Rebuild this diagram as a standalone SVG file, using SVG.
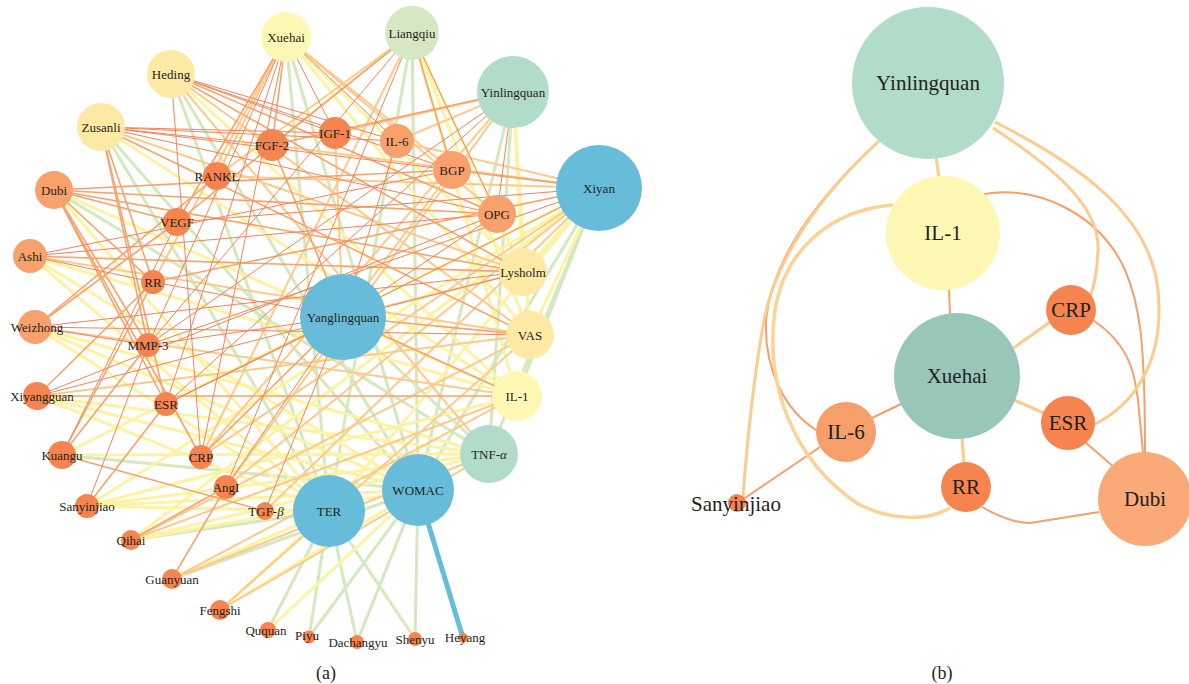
<svg xmlns="http://www.w3.org/2000/svg" width="1189" height="684" viewBox="0 0 1189 684">
<style>
.g{stroke:#d5e8c0;stroke-width:3;fill:none}
.y{stroke:#fcf3a5;stroke-width:3;fill:none}
.lo{stroke:#fdca8b;stroke-width:2;fill:none}
.o{stroke:#f8a26c;stroke-width:1.6;fill:none}
.r{stroke:#f3835a;stroke-width:1;fill:none}
.bl{stroke:#67bdd9;stroke-width:5;fill:none}
.eb1{stroke:#fdcb8c;stroke-width:3;fill:none}
.eb2{stroke:#f5a06b;stroke-width:2;fill:none}
.la{font-family:"Liberation Serif",serif;font-size:13px;text-anchor:middle;fill:#231f20}
.lb{font-family:"Liberation Serif",serif;font-size:21px;text-anchor:middle;fill:#231f20}
.cap{font-family:"Liberation Serif",serif;font-size:18px;text-anchor:middle;fill:#231f20}
.blue{fill:#67bdd9}.teal{fill:#b1dcca}.lg{fill:#d5e8c3}.ly{fill:#fff8b5}.cr{fill:#fee9a5}
.or{fill:#f5844f}.lor{fill:#f8a16d}
</style>
<rect width="1189" height="684" fill="#ffffff"/>
<g id="edges-a">
<g class="g">
<line x1="286" y1="37" x2="329" y2="511"/><line x1="286" y1="37" x2="418" y2="490"/>
<line x1="171" y1="74" x2="329" y2="511"/><line x1="171" y1="74" x2="418" y2="490"/>
<line x1="101" y1="127" x2="329" y2="511"/><line x1="101" y1="127" x2="418" y2="490"/>
<line x1="412" y1="33" x2="329" y2="511"/><line x1="412" y1="33" x2="418" y2="490"/>
<line x1="513" y1="92" x2="489" y2="454"/><line x1="513" y1="92" x2="418" y2="490"/>
<line x1="599" y1="188" x2="489" y2="454"/><line x1="599" y1="188" x2="418" y2="490"/>
<line x1="599" y1="188" x2="517" y2="396"/><line x1="62" y1="455" x2="418" y2="490"/>
<line x1="131" y1="540" x2="329" y2="511"/><line x1="172" y1="579" x2="418" y2="490"/>
<line x1="268" y1="630" x2="329" y2="511"/><line x1="309" y1="637" x2="329" y2="511"/>
<line x1="309" y1="637" x2="418" y2="490"/><line x1="357" y1="642" x2="329" y2="511"/>
<line x1="357" y1="642" x2="418" y2="490"/><line x1="415" y1="639" x2="329" y2="511"/>
<line x1="415" y1="639" x2="418" y2="490"/><line x1="54" y1="190" x2="489" y2="454"/>
<line x1="343" y1="317" x2="489" y2="454"/>
</g>
<g class="y">
<line x1="286" y1="37" x2="523" y2="272"/><line x1="286" y1="37" x2="530" y2="335"/>
<line x1="412" y1="33" x2="523" y2="272"/><line x1="412" y1="33" x2="530" y2="335"/>
<line x1="412" y1="33" x2="517" y2="396"/><line x1="513" y1="92" x2="523" y2="272"/>
<line x1="513" y1="92" x2="530" y2="335"/><line x1="171" y1="74" x2="517" y2="396"/>
<line x1="54" y1="190" x2="329" y2="511"/><line x1="54" y1="190" x2="517" y2="396"/>
<line x1="30" y1="256" x2="329" y2="511"/><line x1="30" y1="256" x2="418" y2="490"/>
<line x1="30" y1="256" x2="517" y2="396"/><line x1="35" y1="327" x2="418" y2="490"/>
<line x1="35" y1="327" x2="489" y2="454"/><line x1="35" y1="327" x2="329" y2="511"/>
<line x1="37" y1="396" x2="418" y2="490"/><line x1="37" y1="396" x2="329" y2="511"/>
<line x1="37" y1="396" x2="489" y2="454"/><line x1="62" y1="455" x2="489" y2="454"/>
<line x1="87" y1="506" x2="329" y2="511"/><line x1="87" y1="506" x2="418" y2="490"/>
<line x1="87" y1="506" x2="489" y2="454"/><line x1="87" y1="506" x2="517" y2="396"/>
<line x1="131" y1="540" x2="418" y2="490"/><line x1="131" y1="540" x2="489" y2="454"/>
<line x1="172" y1="579" x2="329" y2="511"/><line x1="220" y1="610" x2="418" y2="490"/>
<line x1="220" y1="610" x2="329" y2="511"/><line x1="268" y1="630" x2="418" y2="490"/>
<line x1="599" y1="188" x2="523" y2="272"/><line x1="599" y1="188" x2="530" y2="335"/>
<line x1="599" y1="188" x2="62" y2="455"/><line x1="599" y1="188" x2="131" y2="540"/>
<line x1="599" y1="188" x2="87" y2="506"/><line x1="101" y1="127" x2="517" y2="396"/>
<line x1="599" y1="188" x2="329" y2="511"/>
</g>
<g class="lo">
<line x1="286" y1="37" x2="452" y2="170"/><line x1="286" y1="37" x2="497" y2="214"/>
<line x1="286" y1="37" x2="217" y2="176"/><line x1="286" y1="37" x2="153" y2="282"/>
<line x1="412" y1="33" x2="272" y2="145"/><line x1="412" y1="33" x2="217" y2="176"/>
<line x1="412" y1="33" x2="201" y2="457"/><line x1="513" y1="92" x2="335" y2="133"/>
<line x1="513" y1="92" x2="397" y2="141"/><line x1="513" y1="92" x2="226" y2="487"/>
<line x1="513" y1="92" x2="201" y2="457"/><line x1="171" y1="74" x2="530" y2="335"/>
<line x1="171" y1="74" x2="489" y2="454"/><line x1="101" y1="127" x2="523" y2="272"/>
<line x1="131" y1="540" x2="517" y2="396"/><line x1="131" y1="540" x2="530" y2="335"/>
<line x1="172" y1="579" x2="489" y2="454"/><line x1="172" y1="579" x2="517" y2="396"/>
<line x1="220" y1="610" x2="489" y2="454"/><line x1="220" y1="610" x2="530" y2="335"/>
<line x1="599" y1="188" x2="272" y2="145"/><line x1="599" y1="188" x2="397" y2="141"/>
<line x1="599" y1="188" x2="226" y2="487"/><line x1="599" y1="188" x2="201" y2="457"/>
<line x1="599" y1="188" x2="265" y2="511"/><line x1="599" y1="188" x2="217" y2="176"/>
<line x1="343" y1="317" x2="523" y2="272"/><line x1="343" y1="317" x2="335" y2="133"/>
<line x1="343" y1="317" x2="452" y2="170"/><line x1="30" y1="256" x2="530" y2="335"/>
<line x1="35" y1="327" x2="517" y2="396"/><line x1="37" y1="396" x2="530" y2="335"/>
</g>
<g class="o">
<line x1="286" y1="37" x2="272" y2="145"/><line x1="286" y1="37" x2="177" y2="222"/>
<line x1="412" y1="33" x2="177" y2="222"/><line x1="412" y1="33" x2="452" y2="170"/>
<line x1="513" y1="92" x2="272" y2="145"/><line x1="171" y1="74" x2="523" y2="272"/>
<line x1="171" y1="74" x2="497" y2="214"/><line x1="101" y1="127" x2="530" y2="335"/>
<line x1="101" y1="127" x2="153" y2="282"/><line x1="101" y1="127" x2="148" y2="345"/>
<line x1="101" y1="127" x2="166" y2="404"/><line x1="54" y1="190" x2="153" y2="282"/>
<line x1="54" y1="190" x2="166" y2="404"/><line x1="54" y1="190" x2="201" y2="457"/>
<line x1="54" y1="190" x2="148" y2="345"/><line x1="54" y1="190" x2="177" y2="222"/>
<line x1="54" y1="190" x2="452" y2="170"/><line x1="54" y1="190" x2="497" y2="214"/>
<line x1="54" y1="190" x2="523" y2="272"/><line x1="30" y1="256" x2="523" y2="272"/>
<line x1="35" y1="327" x2="177" y2="222"/><line x1="35" y1="327" x2="217" y2="176"/>
<line x1="37" y1="396" x2="153" y2="282"/><line x1="37" y1="396" x2="517" y2="396"/>
<line x1="62" y1="455" x2="148" y2="345"/><line x1="62" y1="455" x2="153" y2="282"/>
<line x1="62" y1="455" x2="265" y2="511"/><line x1="87" y1="506" x2="166" y2="404"/>
<line x1="131" y1="540" x2="226" y2="487"/><line x1="172" y1="579" x2="226" y2="487"/>
<line x1="599" y1="188" x2="452" y2="170"/><line x1="599" y1="188" x2="153" y2="282"/>
<line x1="343" y1="317" x2="272" y2="145"/><line x1="343" y1="317" x2="530" y2="335"/>
<line x1="343" y1="317" x2="517" y2="396"/><line x1="343" y1="317" x2="201" y2="457"/>
</g>
<g class="r">
<line x1="171" y1="74" x2="335" y2="133"/><line x1="171" y1="74" x2="397" y2="141"/>
<line x1="171" y1="74" x2="452" y2="170"/><line x1="171" y1="74" x2="201" y2="457"/>
<line x1="101" y1="127" x2="272" y2="145"/><line x1="101" y1="127" x2="335" y2="133"/>
<line x1="101" y1="127" x2="397" y2="141"/><line x1="101" y1="127" x2="452" y2="170"/>
<line x1="101" y1="127" x2="497" y2="214"/><line x1="30" y1="256" x2="497" y2="214"/>
<line x1="30" y1="256" x2="452" y2="170"/><line x1="30" y1="256" x2="153" y2="282"/>
<line x1="35" y1="327" x2="530" y2="335"/><line x1="35" y1="327" x2="523" y2="272"/>
<line x1="35" y1="327" x2="148" y2="345"/><line x1="37" y1="396" x2="497" y2="214"/>
<line x1="37" y1="396" x2="523" y2="272"/><line x1="412" y1="33" x2="497" y2="214"/>
<line x1="412" y1="33" x2="226" y2="487"/><line x1="412" y1="33" x2="148" y2="345"/>
<line x1="513" y1="92" x2="497" y2="214"/><line x1="513" y1="92" x2="166" y2="404"/>
<line x1="513" y1="92" x2="148" y2="345"/><line x1="286" y1="37" x2="397" y2="141"/>
<line x1="286" y1="37" x2="201" y2="457"/><line x1="286" y1="37" x2="166" y2="404"/>
<line x1="286" y1="37" x2="148" y2="345"/><line x1="286" y1="37" x2="335" y2="133"/>
<line x1="599" y1="188" x2="148" y2="345"/><line x1="599" y1="188" x2="166" y2="404"/>
<line x1="599" y1="188" x2="177" y2="222"/><line x1="343" y1="317" x2="153" y2="282"/>
<line x1="343" y1="317" x2="148" y2="345"/><line x1="343" y1="317" x2="166" y2="404"/>
<line x1="343" y1="317" x2="226" y2="487"/><line x1="343" y1="317" x2="265" y2="511"/>
<line x1="343" y1="317" x2="397" y2="141"/><line x1="343" y1="317" x2="497" y2="214"/>
<line x1="62" y1="455" x2="177" y2="222"/><line x1="87" y1="506" x2="148" y2="345"/>
</g>
<line class="bl" x1="463" y1="638" x2="418" y2="490"/>
</g>
<g id="edges-b">
<line class="eb1" x1="936" y1="156" x2="939" y2="178"/>
<line class="eb2" x1="949" y1="288" x2="950" y2="315"/>
<line class="eb1" x1="1012" y1="349" x2="1050" y2="322"/>
<line class="eb1" x1="1014" y1="400" x2="1044" y2="413"/>
<line class="eb2" x1="901" y1="404" x2="872" y2="418"/>
<line class="eb1" x1="962" y1="437" x2="964" y2="464"/>
<line class="eb2" x1="1085" y1="442" x2="1115" y2="468"/>
<path class="eb2" d="M1093,320 C1125,342 1134,365 1138,400 L1143,453"/>
<path class="eb2" d="M984,194 C1040,185 1100,215 1125,270 C1140,305 1145,340 1145,453"/>
<path class="eb2" d="M982,507 Q1010,523 1030,523 L1099,512"/>
<line class="eb2" x1="820" y1="447" x2="742" y2="500"/>
<path class="eb2" d="M878,142 C815,200 772,260 766,320 C764,370 785,410 816,430"/>
<path class="eb1" d="M880,140 C820,195 775,260 764,320 C755,370 748,430 743,497"/>
<path class="eb1" style="stroke:#fed294;stroke-width:3.5" d="M893,205 C830,210 785,250 775,310 C765,380 790,460 860,505 C895,522 930,520 950,508"/>
<path class="eb1" d="M993,128 C1050,165 1100,205 1098,250 C1097,270 1095,285 1090,296"/>
<path class="eb1" d="M995,122 C1080,165 1150,215 1158,290 C1165,360 1135,405 1093,425"/>
</g>
<g id="a-Xuehai"><circle class="ly" cx="286" cy="37" r="25"/><text class="la" x="286" y="41.5">Xuehai</text></g>
<g id="a-Liangqiu"><circle class="lg" cx="412" cy="33" r="27"/><text class="la" x="412" y="37.5">Liangqiu</text></g>
<g id="a-Yinlingquan"><circle class="teal" cx="513" cy="92" r="36"/><text class="la" x="513" y="96.5">Yinlingquan</text></g>
<g id="a-Heding"><circle class="cr" cx="171" cy="74" r="24"/><text class="la" x="171" y="78.5">Heding</text></g>
<g id="a-Zusanli"><circle class="cr" cx="101" cy="127" r="24"/><text class="la" x="101" y="131.5">Zusanli</text></g>
<g id="a-Dubi"><circle class="lor" cx="54" cy="190" r="19"/><text class="la" x="54" y="194.5">Dubi</text></g>
<g id="a-Ashi"><circle class="lor" cx="30" cy="256" r="17"/><text class="la" x="30" y="260.5">Ashi</text></g>
<g id="a-Weizhong"><circle class="lor" cx="35" cy="327" r="17"/><text class="la" x="37" y="331.5">Weizhong</text></g>
<g id="a-Xiyangguan"><circle class="or" cx="37" cy="396" r="14"/><text class="la" x="42" y="400.5">Xiyangguan</text></g>
<g id="a-Kuangu"><circle class="or" cx="62" cy="455" r="14"/><text class="la" x="62" y="459.5">Kuangu</text></g>
<g id="a-Sanyinjiao"><circle class="or" cx="87" cy="506" r="12"/><text class="la" x="87" y="510.5">Sanyinjiao</text></g>
<g id="a-Qihai"><circle class="or" cx="131" cy="540" r="10"/><text class="la" x="131" y="544.5">Qihai</text></g>
<g id="a-Guanyuan"><circle class="or" cx="172" cy="579" r="10"/><text class="la" x="172" y="583.5">Guanyuan</text></g>
<g id="a-Fengshi"><circle class="or" cx="220" cy="610" r="10"/><text class="la" x="220" y="614.5">Fengshi</text></g>
<g id="a-Ququan"><circle class="or" cx="268" cy="630" r="8"/><text class="la" x="266" y="634.5">Ququan</text></g>
<g id="a-Piyu"><circle class="or" cx="309" cy="637" r="6.5"/><text class="la" x="307" y="640">Piyu</text></g>
<g id="a-Dachangyu"><circle class="or" cx="357" cy="642" r="7"/><text class="la" x="358" y="646.5">Dachangyu</text></g>
<g id="a-Shenyu"><circle class="or" cx="415" cy="639" r="7"/><text class="la" x="415" y="643.5">Shenyu</text></g>
<g id="a-Heyang"><circle class="or" cx="463" cy="638" r="5"/><text class="la" x="465" y="642">Heyang</text></g>
<g id="a-Xiyan"><circle class="blue" cx="599" cy="188" r="43"/><text class="la" x="599" y="192.5">Xiyan</text></g>
<g id="a-Yanglingquan"><circle class="blue" cx="343" cy="317" r="43"/><text class="la" x="343" y="321.5">Yanglingquan</text></g>
<g id="a-FGF-2"><circle class="or" cx="272" cy="145" r="16"/><text class="la" x="272" y="149.5">FGF-2</text></g>
<g id="a-IGF-1"><circle class="or" cx="335" cy="133" r="16"/><text class="la" x="335" y="137.5">IGF-1</text></g>
<g id="a-IL-6"><circle class="lor" cx="397" cy="141" r="17"/><text class="la" x="397" y="145.5">IL-6</text></g>
<g id="a-BGP"><circle class="lor" cx="452" cy="170" r="19"/><text class="la" x="452" y="174.5">BGP</text></g>
<g id="a-OPG"><circle class="lor" cx="497" cy="214" r="19"/><text class="la" x="497" y="218.5">OPG</text></g>
<g id="a-RANKL"><circle class="or" cx="217" cy="176" r="14"/><text class="la" x="217" y="180.5">RANKL</text></g>
<g id="a-VEGF"><circle class="or" cx="177" cy="222" r="14"/><text class="la" x="177" y="226.5">VEGF</text></g>
<g id="a-RR"><circle class="or" cx="153" cy="282" r="12"/><text class="la" x="153" y="286.5">RR</text></g>
<g id="a-MMP-3"><circle class="or" cx="148" cy="345" r="12"/><text class="la" x="148" y="349.5">MMP-3</text></g>
<g id="a-ESR"><circle class="or" cx="166" cy="404" r="12"/><text class="la" x="166" y="408.5">ESR</text></g>
<g id="a-CRP"><circle class="or" cx="201" cy="457" r="12"/><text class="la" x="201" y="461.5">CRP</text></g>
<g id="a-AngI"><circle class="or" cx="226" cy="487" r="12"/><text class="la" x="226" y="491.5">AngI</text></g>
<g id="a-TGF-b"><circle class="or" cx="265" cy="511" r="9"/><text class="la" x="266" y="515.5">TGF-<tspan font-style="italic">β</tspan></text></g>
<g id="a-Lysholm"><circle class="cr" cx="523" cy="272" r="24"/><text class="la" x="523" y="276.5">Lysholm</text></g>
<g id="a-VAS"><circle class="cr" cx="530" cy="335" r="24"/><text class="la" x="530" y="339.5">VAS</text></g>
<g id="a-IL-1"><circle class="ly" cx="517" cy="396" r="25"/><text class="la" x="517" y="400.5">IL-1</text></g>
<g id="a-TNF-a"><circle class="teal" cx="489" cy="454" r="29"/><text class="la" x="489" y="458.5">TNF-<tspan font-style="italic">α</tspan></text></g>
<g id="a-TER"><circle class="blue" cx="329" cy="511" r="36"/><text class="la" x="329" y="515.5">TER</text></g>
<g id="a-WOMAC"><circle class="blue" cx="418" cy="490" r="36"/><text class="la" x="418" y="494.5">WOMAC</text></g>
<g id="b-Yinlingquan"><circle class="teal" cx="928" cy="83" r="76"/><text class="lb" x="928" y="90">Yinlingquan</text></g>
<g id="b-IL-1"><circle class="ly" cx="943" cy="233" r="57"/><text class="lb" x="943" y="240">IL-1</text></g>
<g id="b-CRP"><circle class="or" cx="1071" cy="310" r="25"/><text class="lb" x="1071" y="317">CRP</text></g>
<g id="b-Xuehai"><circle fill="#98c7b9" cx="957" cy="376" r="63"/><text class="lb" x="957" y="383">Xuehai</text></g>
<g id="b-IL-6"><circle fill="#f79f6b" cx="846" cy="432" r="30"/><text class="lb" x="846" y="439">IL-6</text></g>
<g id="b-ESR"><circle class="or" cx="1068" cy="423" r="27"/><text class="lb" x="1068" y="430">ESR</text></g>
<g id="b-RR"><circle class="or" cx="966" cy="487" r="25"/><text class="lb" x="966" y="494">RR</text></g>
<g id="b-Dubi"><circle fill="#f9aa76" cx="1145" cy="499" r="47"/><text class="lb" x="1145" y="506">Dubi</text></g>
<g id="b-Sanyinjiao"><circle class="or" cx="737" cy="503" r="9"/><text class="lb" x="736" y="511">Sanyinjiao</text></g>
<text class="cap" x="326" y="679">(a)</text>
<text class="cap" x="942" y="679">(b)</text>
</svg>
